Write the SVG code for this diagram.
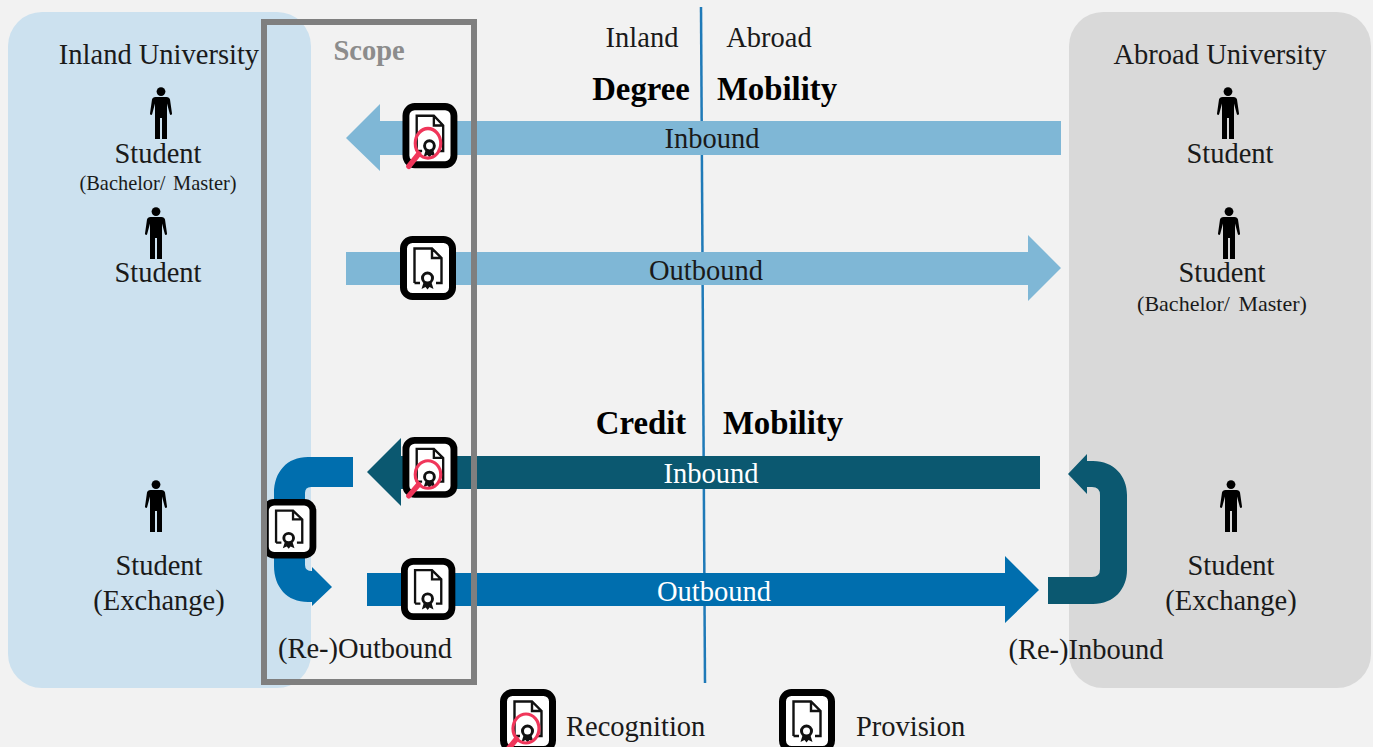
<svg xmlns="http://www.w3.org/2000/svg" width="1373" height="747" viewBox="0 0 1373 747">
<style>
text{font-family:"Liberation Serif","Times New Roman",serif;fill:#1a1a1a;font-size:28.500px}
.m{text-anchor:middle}
.s{font-size:20.400px;word-spacing:2.500px}
.s2{font-size:22px;word-spacing:3px}
.b{font-weight:bold;font-size:32.800px;fill:#000}
.w{fill:#fff}
</style>
<defs>
<symbol id="person" viewBox="0 0 22 52" overflow="visible">
<circle cx="11" cy="4.600" r="4.400" fill="#000"/>
<path d="M5.500 10H16.500C18.500 10 19.500 11 20 12.500L22 26.500C22.200 28 20.200 28.500 19.800 27L17 16.500V52H12V31H10V52H5V16.500L2.200 27C1.800 28.500-.2 28 0 26.500L2 12.500C2.500 11 3.500 10 5.500 10Z" fill="#000"/>
</symbol>
<g id="cert">
<rect x="3.500" y="3.500" width="49" height="57" rx="9" fill="#fff" stroke="#000" stroke-width="7"/>
<path d="M14.500 47V12.500H32L41.500 22V47H36M20 47H14.500M32 12.500V22H41.500" fill="none" stroke="#111" stroke-width="2.400"/>
<circle cx="27.500" cy="42" r="5" fill="#fff" stroke="#111" stroke-width="3"/>
<path d="M23.500 46.500L21.500 53L25.500 51L27.500 53.500L29.500 51L33.500 53L31.500 46.500Z" fill="#111"/>
</g>
<g id="recog">
<use href="#cert"/>
<ellipse cx="26" cy="39.500" rx="13" ry="14.500" fill="none" stroke="#f0365a" stroke-width="3.200"/>
<path d="M16.500 50L6.500 62" stroke="#f0365a" stroke-width="5.500" stroke-linecap="round"/>
</g>
</defs>
<rect width="1373" height="747" fill="#f2f2f2"/>
<rect id="inland-panel" x="8" y="12" width="303" height="676" rx="34" fill="#cce1ef"/>
<rect id="abroad-panel" x="1069" y="12" width="302" height="676" rx="34" fill="#d9d9d9"/>
<g id="connectors">
<path d="M701 7L705 683" stroke="#1f7ab8" stroke-width="2.500" fill="none"/>
<path d="M346 138L380 104V121H1061V155H380V171Z" fill="#7fb7d6"/>
<path d="M346 252H1028V235L1061 268L1028 301V285H346Z" fill="#7fb7d6"/>
<path d="M367 472L401 438V456H1040V489H401V506Z" fill="#0b5870"/>
<path d="M367 573H1005V556L1039 590L1005 623V606H367Z" fill="#006eae"/>
<path d="M353 457V487H311Q305 487 305 493V565Q305 571 312 571V567L332 587L312 606V602H308C287 602 274 587 274 566V493C274 472 287 457 308 457Z" fill="#006eae"/>
<path d="M1048 577H1092Q1100 577 1100 569V495Q1100 487 1092 487H1087V494L1068 474L1087 454V461H1093C1114 461 1127 476 1127 495V570C1127 589 1114 604 1093 604H1048Z" fill="#0b5870"/>
</g>
<g id="icon-inbound-degree"><use href="#recog" transform="translate(402.500 103) scale(.98 1.02)"/></g>
<g id="icon-outbound-degree"><use href="#cert" transform="translate(400 236)"/></g>
<g id="icon-inbound-credit"><use href="#recog" transform="translate(402.500 437) scale(.98 .95)"/></g>
<g id="icon-outbound-credit"><use href="#cert" transform="translate(401 558) scale(.97 .97)"/></g>
<g id="icon-reoutbound"><use href="#cert" transform="translate(262 499) scale(.97 .93)"/></g>
<rect id="scope" x="264" y="22" width="210" height="660" fill="none" stroke="#7f7f7f" stroke-width="6"/>
<g id="scope-label"><text x="369" y="59.500" class="m" style="font-size:28.500px;font-weight:bold;fill:#8c8c8c">Scope</text></g>
<g id="inland-university"><text x="159" y="63.500" class="m">Inland University</text></g>
<g id="abroad-university"><text x="1220" y="63.500" class="m">Abroad University</text></g>
<g id="student-in-1"><use href="#person" x="150" y="87" width="22" height="52"/><text x="158" y="162.500" class="m">Student</text><text x="158" y="189.500" class="m s">(Bachelor/ Master)</text></g>
<g id="student-in-2"><use href="#person" x="145" y="207" width="22" height="52"/><text x="158" y="281.500" class="m">Student</text></g>
<g id="student-in-3"><use href="#person" x="145" y="480" width="22" height="52"/><text x="159" y="574.500" class="m">Student</text><text x="159" y="609.500" class="m">(Exchange)</text></g>
<g id="student-ab-1"><use href="#person" x="1217" y="87" width="22" height="52"/><text x="1230" y="162.500" class="m">Student</text></g>
<g id="student-ab-2"><use href="#person" x="1218" y="207" width="22" height="52"/><text x="1222" y="281.500" class="m">Student</text><text x="1222" y="311" class="m s2">(Bachelor/ Master)</text></g>
<g id="student-ab-3"><use href="#person" x="1220" y="480" width="22" height="52"/><text x="1231" y="574.500" class="m">Student</text><text x="1231" y="609.500" class="m">(Exchange)</text></g>
<g id="headers">
<text x="642" y="46.500" class="m">Inland</text>
<text x="769" y="46.500" class="m">Abroad</text>
<text x="641" y="100" class="m b">Degree</text>
<text x="777" y="100" class="m b">Mobility</text>
<text x="641" y="434" class="m b">Credit</text>
<text x="783" y="434" class="m b">Mobility</text>
</g>
<g id="arrow-labels">
<text x="712" y="147.500" class="m">Inbound</text>
<text x="706" y="279.500" class="m">Outbound</text>
<text x="711" y="482.500" class="m w">Inbound</text>
<text x="714" y="600.500" class="m w">Outbound</text>
<text x="365" y="657.500" class="m">(Re-)Outbound</text>
<text x="1086" y="658.500" class="m">(Re-)Inbound</text>
</g>
<g id="legend">
<use href="#recog" transform="translate(500 689)"/>
<text x="566" y="735.500">Recognition</text>
<use href="#cert" transform="translate(779 689)"/>
<text x="856" y="735.500">Provision</text>
</g>
</svg>
